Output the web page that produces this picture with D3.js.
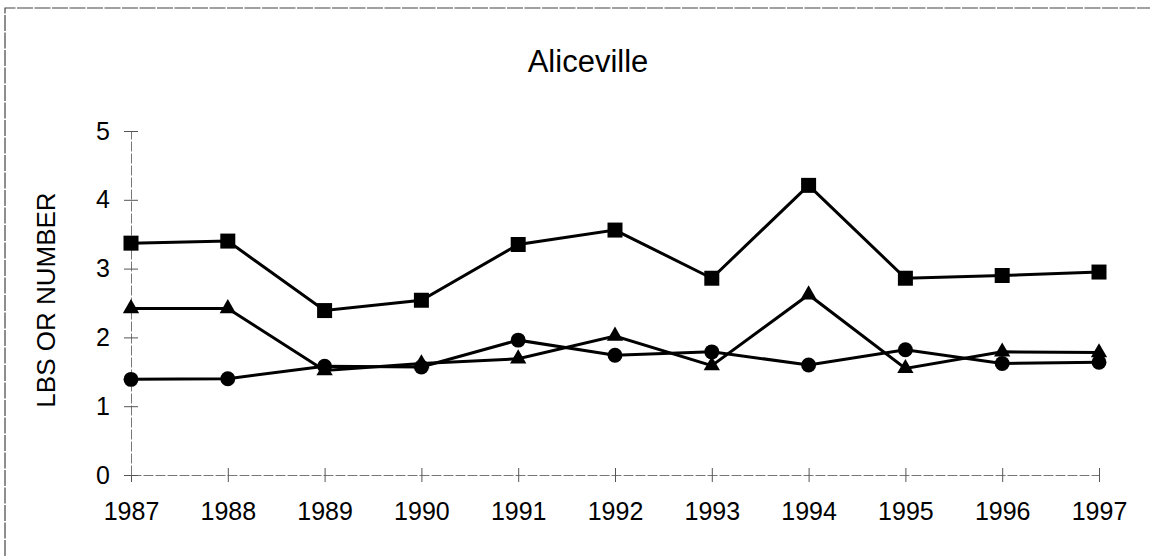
<!DOCTYPE html>
<html>
<head>
<meta charset="utf-8">
<script src="https://cdn.jsdelivr.net/npm/d3@7/dist/d3.min.js"></script>
<style>
  body { margin: 0; background: #fff; }
  svg { display: block; font-family: Arial, "Liberation Sans", sans-serif; }
</style>
</head>
<body>
<div id="chart"></div>
<script>
//data
var years = [1987, 1988, 1989, 1990, 1991, 1992, 1993, 1994, 1995, 1996, 1997];
var squareSeries   = [3.37, 3.40, 2.39, 2.54, 3.35, 3.56, 2.86, 4.21, 2.86, 2.90, 2.95];
var triangleSeries = [2.42, 2.42, 1.52, 1.62, 1.69, 2.02, 1.59, 2.62, 1.55, 1.79, 1.78];
var circleSeries   = [1.39, 1.40, 1.58, 1.57, 1.96, 1.74, 1.79, 1.60, 1.82, 1.62, 1.64];
var yTicks = [0, 1, 2, 3, 4, 5];

var W = 1150, H = 556;
var plot = {left: 131, right: 1099, top: 131, bottom: 475};
var font = "Arial, 'Liberation Sans', sans-serif";

var svg = d3.select("#chart").append("svg")
  .attr("width", W)
  .attr("height", H);

//outer frame, only top and left edges show in the scan
svg.append("path")
  .attr("d", "M5,556 L5,8 L1150,8")
  .attr("fill", "none")
  .attr("stroke", "#444")
  .attr("stroke-width", 1.2)
  .attr("stroke-dasharray", "16,1.5");

var x = d3.scaleLinear().domain([1987, 1997]).range([plot.left, plot.right]);
var y = d3.scaleLinear().domain([0, 5]).range([plot.bottom, plot.top]);

//axes: thin grey lines with ticks crossing the line
var xAxis = d3.axisBottom(x).tickValues(years).tickFormat(d3.format("d"))
  .tickSizeInner(7).tickSizeOuter(0).tickPadding(20);
var yAxis = d3.axisLeft(y).tickValues(yTicks).tickFormat(d3.format("d"))
  .tickSizeInner(7).tickSizeOuter(0).tickPadding(14);

var gx = svg.append("g").attr("transform", "translate(0," + plot.bottom + ")").call(xAxis);
var gy = svg.append("g").attr("transform", "translate(" + plot.left + ",0)").call(yAxis);

[gx, gy].forEach(function(g) {
  g.attr("font-size", 25).attr("font-family", font);
  g.select(".domain").attr("stroke", "#777").attr("stroke-width", 1).attr("stroke-dasharray", "10,2");
  g.selectAll(".tick line").attr("stroke", "#555").attr("stroke-width", 1);
  g.selectAll(".tick text").attr("fill", "#000");
});
//ticks cross the axis lines
gx.selectAll(".tick line").attr("y1", -7).attr("y2", 7);
gy.selectAll(".tick line").attr("x1", -7).attr("x2", 7);

//title
svg.append("text")
  .attr("x", 588)
  .attr("y", 72)
  .attr("text-anchor", "middle")
  .attr("font-size", 31)
  .text("Aliceville");

//y axis label
svg.append("text")
  .attr("transform", "translate(55," + 300 + ") rotate(-90)")
  .attr("text-anchor", "middle")
  .attr("font-size", 26)
  .text("LBS OR NUMBER");

//series
var line = d3.line()
  .x(function(d, i) { return x(years[i]); })
  .y(function(d) { return y(d); });

var series = [
  {values: squareSeries, symbol: d3.symbolSquare, size: 225},
  {values: triangleSeries, symbol: d3.symbolTriangle, size: 115},
  {values: circleSeries, symbol: d3.symbolCircle, size: 175}
];

series.forEach(function(s) {
  svg.append("path")
    .datum(s.values)
    .attr("fill", "none")
    .attr("stroke", "#000")
    .attr("stroke-width", 3)
    .attr("d", line);
});

series.forEach(function(s) {
  svg.append("g").selectAll("path")
    .data(s.values)
    .enter()
    .append("path")
    .attr("transform", function(d, i) { return "translate(" + x(years[i]) + "," + y(d) + ")"; })
    .attr("d", d3.symbol().type(s.symbol).size(s.size))
    .attr("fill", "#000");
});
</script>
</body>
</html>
